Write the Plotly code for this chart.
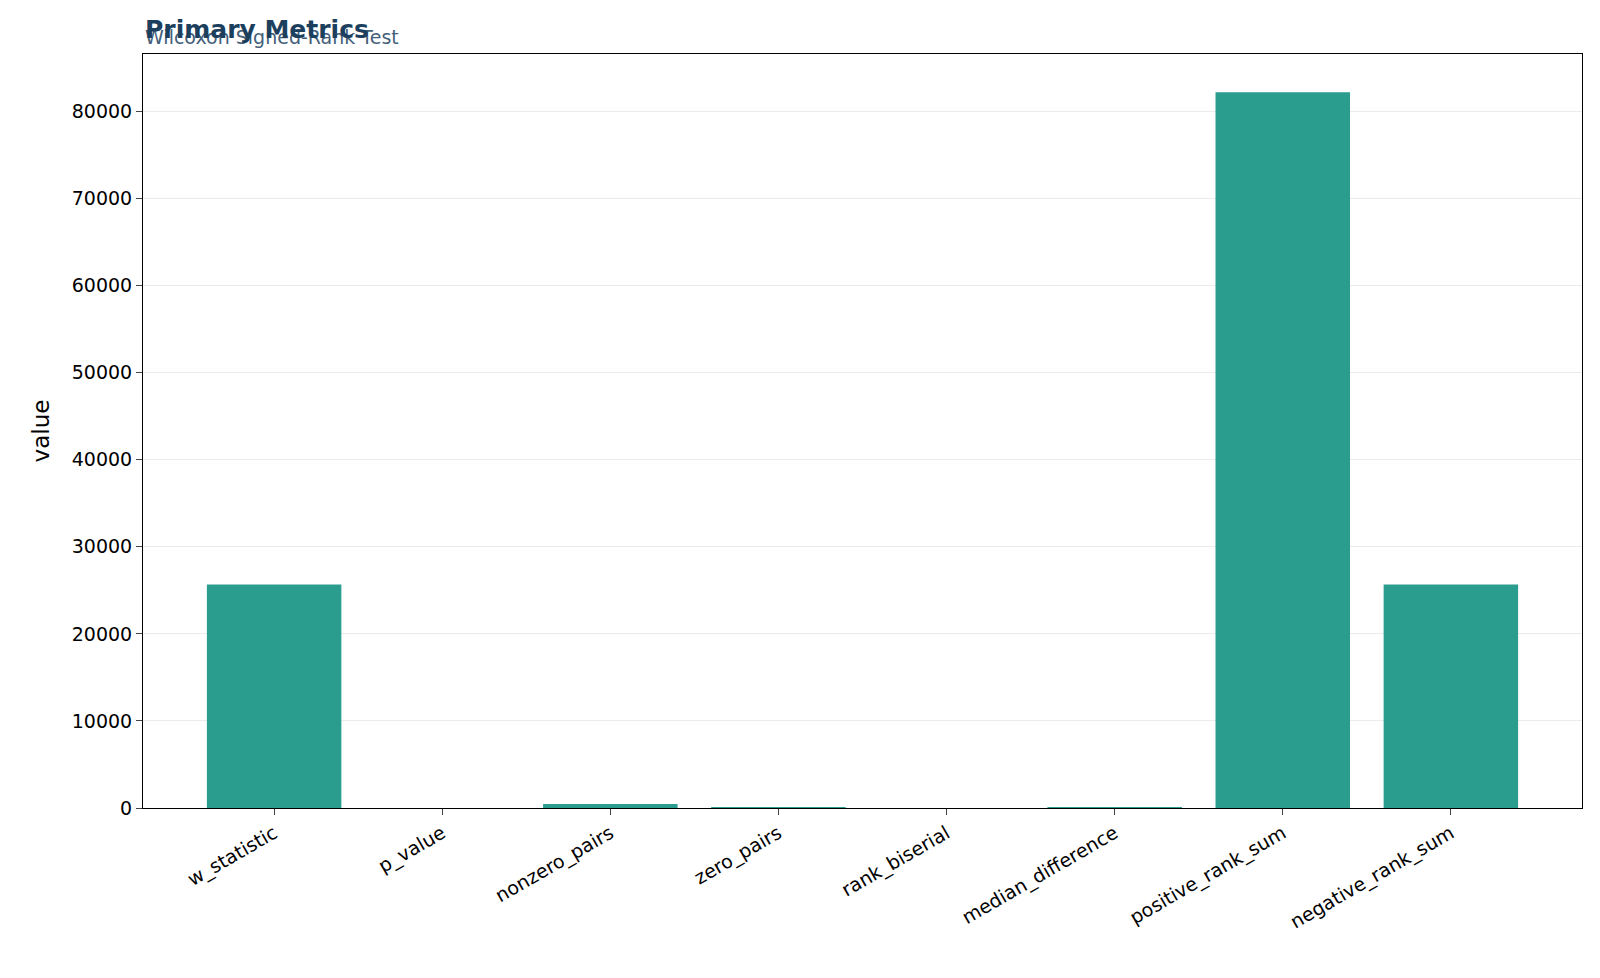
import plotly.graph_objects as go

categories = ["w_statistic", "p_value", "nonzero_pairs", "zero_pairs", "rank_biserial",
              "median_difference", "positive_rank_sum", "negative_rank_sum"]
values = [25680, 0.0001, 464, 36, 0.52, 0.8, 82200, 25680]

fig = go.Figure(go.Bar(x=categories, y=values, marker_color="#2a9d8f", width=0.8,
                       marker_line_width=0))
fig.update_layout(
    width=1600, height=978, plot_bgcolor="white", paper_bgcolor="white",
    margin=dict(l=135, r=26, t=46, b=178),
    font=dict(family="DejaVu Sans", size=19, color="black"),
    showlegend=False, bargap=0.2,
    annotations=[
        dict(text="Wilcoxon Signed-Rank Test", x=0, y=1.0, xref="paper", yref="paper",
             xanchor="left", yanchor="bottom", yshift=4, showarrow=False,
             font=dict(size=19, color="#44607a")),
        dict(text="<b>Primary Metrics</b>", x=0, y=1.0, xref="paper", yref="paper",
             xanchor="left", yanchor="bottom", yshift=8, showarrow=False,
             font=dict(size=25, color="#1d3f5e")),
    ],
)
fig.update_xaxes(range=[-0.78, 7.78], tickangle=-30, showline=True, linecolor="black",
                 mirror=True, ticks="outside", ticklen=6, showgrid=False)
fig.update_yaxes(range=[0, 86600], title_text="value", showline=True, linecolor="black",
                 mirror=True, ticks="outside", ticklen=6, dtick=10000, tickformat="d",
                 gridcolor="#ebebeb", zeroline=False)
fig.write_html("out.html")
